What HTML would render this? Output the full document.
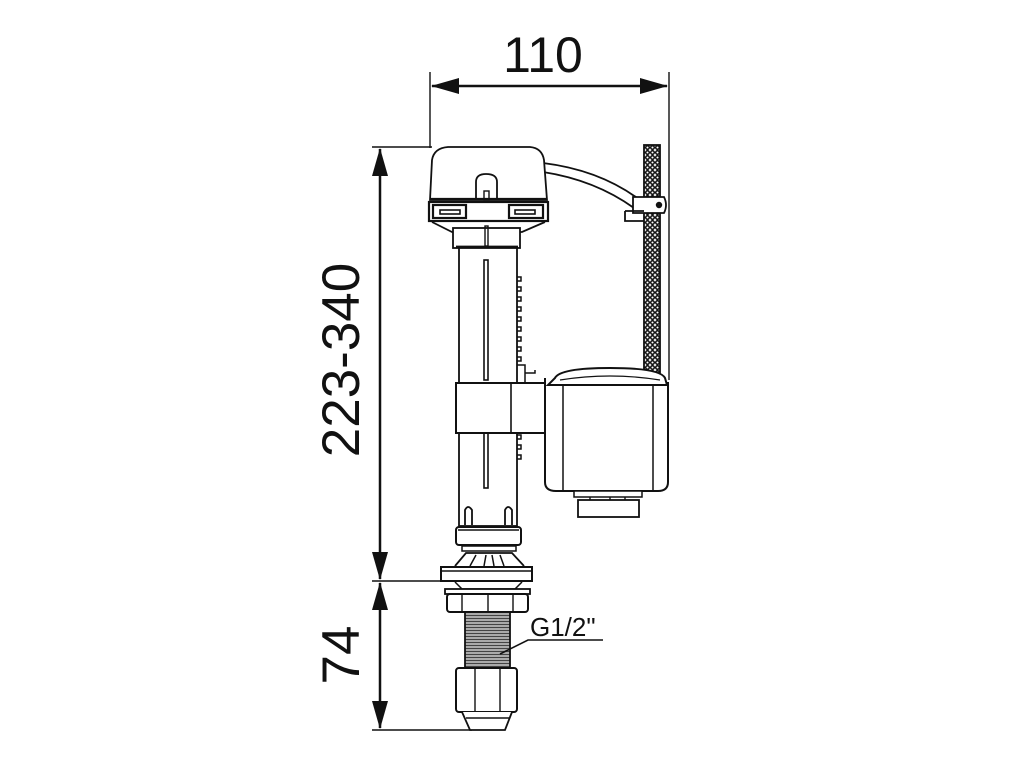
<!DOCTYPE html>
<html><head><meta charset="utf-8"><style>
html,body{margin:0;padding:0;background:#fff;}
svg{display:block;}
text{font-family:"Liberation Sans",Arial,sans-serif;fill:#111;}
</style></head><body>
<svg width="1024" height="768" viewBox="0 0 1024 768" xmlns="http://www.w3.org/2000/svg">
<defs>
<pattern id="chain" width="5" height="5" patternUnits="userSpaceOnUse">
<rect width="5" height="5" fill="#fff"/>
<circle cx="2.5" cy="2.5" r="1.8" fill="none" stroke="#111" stroke-width="1.5"/>
</pattern>
<pattern id="thr" width="4" height="3" patternUnits="userSpaceOnUse">
<rect width="4" height="3" fill="#aaa"/>
<line x1="0" y1="0.5" x2="4" y2="0.5" stroke="#444" stroke-width="1"/>
</pattern>
<marker id="ar" markerWidth="28" markerHeight="16" refX="27" refY="8" orient="auto-start-reverse" markerUnits="userSpaceOnUse">
<path d="M0,0 L28,8 L0,16 Z" fill="#111"/>
</marker>
</defs>
<g stroke="#111" stroke-width="1.4" fill="none">
<line x1="430" y1="72" x2="430" y2="148"/>
<line x1="669" y1="72" x2="669" y2="380"/>
<line x1="432" y1="86" x2="667" y2="86" stroke-width="2.5" marker-start="url(#ar)" marker-end="url(#ar)"/>
<line x1="372" y1="147" x2="432" y2="147"/>
<line x1="372" y1="581" x2="442" y2="581"/>
<line x1="372" y1="730" x2="472" y2="730"/>
<line x1="380" y1="149" x2="380" y2="579" stroke-width="2.5" marker-start="url(#ar)" marker-end="url(#ar)"/>
<line x1="380" y1="583" x2="380" y2="728" stroke-width="2.5" marker-start="url(#ar)" marker-end="url(#ar)"/>

<rect x="644" y="145" width="16" height="235" fill="url(#chain)" stroke-width="1.8"/>
<path d="M543,163 Q600,170 640,200" stroke-width="1.8"/>
<path d="M543,172 Q595,180 634,208" stroke-width="1.8"/>
<path d="M633,197 L664,197 Q668,205 664,213 L633,213 Z" fill="#fff" stroke-width="1.8"/>
<circle cx="659" cy="205" r="2.5" fill="#111"/>
<path d="M625,211 L644,211 M625,211 L625,221 L644,221" stroke-width="1.8"/>

<path d="M430,200 L432,160 Q434,148 448,147 L530,147 Q542,148 544,160 L547,200 Z" fill="#fff" stroke-width="1.8"/>
<path d="M476,200 L476,182 Q476,174 486,174 Q497,174 497,182 L497,200" stroke-width="1.8"/>
<rect x="484" y="191" width="5" height="9"/>
<line x1="430" y1="199" x2="547" y2="199" stroke-width="2.2"/>
<rect x="429" y="202" width="119" height="19" fill="#fff" stroke-width="2.2"/>
<rect x="433" y="205" width="33" height="13" stroke-width="2.2"/>
<rect x="509" y="205" width="34" height="13" stroke-width="2.2"/>
<rect x="440" y="210" width="20" height="4" stroke-width="1.6"/>
<rect x="515" y="210" width="20" height="4" stroke-width="1.6"/>
<path d="M432,222 L452,232 L522,232 L545,222" stroke-width="1.8"/>
<rect x="453" y="228" width="67" height="20" fill="#fff" stroke-width="1.8"/>
<rect x="485" y="226" width="3" height="20"/>
<line x1="456" y1="247" x2="518" y2="247" stroke-width="2.8"/>

<rect x="459" y="248" width="58" height="278" fill="#fff" stroke-width="1.8"/>
<rect x="484" y="260" width="4" height="120" stroke-width="1.6"/>
<rect x="484" y="433" width="4" height="55" stroke-width="1.6"/>
<path d="M517,277 h4 v4 h-4 m0,6 h4 v4 h-4 m0,6 h4 v4 h-4 m0,6 h4 v4 h-4 m0,6 h4 v4 h-4 m0,6 h4 v4 h-4 m0,6 h4 v4 h-4 m0,6 h4 v4 h-4 m0,6 h4 v4 h-4" stroke-width="1.5"/>
<path d="M517,435 h4 v4 h-4 m0,6 h4 v4 h-4 m0,6 h4 v4 h-4" stroke-width="1.5"/>
<path d="M517,365 h8 v18 M525,373 h10 v-3" stroke-width="1.5"/>
<rect x="456" y="383" width="89" height="50" fill="#fff" stroke-width="2"/>
<line x1="511" y1="383" x2="511" y2="433" stroke-width="1.6"/>

<path d="M545,378 L545,482 Q545,491 556,491 L658,491 Q668,491 668,482 L668,382" fill="#fff" stroke-width="2"/>
<line x1="563" y1="385" x2="563" y2="491" stroke-width="1.5"/>
<line x1="653" y1="385" x2="653" y2="491" stroke-width="1.5"/>
<path d="M555,378 Q560,368 610,368 Q660,368 665,378 L667,385 L548,385 Z" fill="#fff" stroke-width="2"/>
<path d="M560,380 Q610,372 660,380" stroke-width="1.2"/>
<rect x="574" y="491" width="68" height="6" fill="#fff" stroke-width="1.5"/>
<rect x="578" y="500" width="61" height="17" fill="#fff" stroke-width="1.8"/>
<line x1="590" y1="497" x2="590" y2="500"/><line x1="610" y1="497" x2="610" y2="500"/><line x1="625" y1="497" x2="625" y2="500"/>

<path d="M465,525 L465,510 Q468,504 472,510 L472,525" fill="#fff" stroke-width="1.8"/>
<path d="M505,525 L505,510 Q508,504 512,510 L512,525" fill="#fff" stroke-width="1.8"/>
<rect x="456" y="527" width="65" height="18" rx="3" fill="#fff" stroke-width="2"/>
<line x1="458" y1="530" x2="519" y2="530"/>
<rect x="462" y="546" width="54" height="5" fill="#fff" stroke-width="1.5"/>
<path d="M455,566 L466,553 L512,553 L524,566" fill="#fff" stroke-width="1.8"/>
<path d="M470,566 L476,555 M484,566 L486,555 M494,566 L492,555 M504,566 L500,555" stroke-width="1.5"/>
<rect x="441" y="567" width="91" height="14" fill="#fff" stroke-width="2"/>
<line x1="441" y1="571" x2="532" y2="571"/>
<path d="M455,582 L462,589 L515,589 L522,582" stroke-width="1.5"/>
<rect x="445" y="589" width="85" height="5" fill="#fff" stroke-width="1.8"/>
<rect x="447" y="594" width="81" height="18" rx="3" fill="#fff" stroke-width="2"/>
<line x1="462" y1="594" x2="462" y2="612"/><line x1="488" y1="594" x2="488" y2="612"/><line x1="513" y1="594" x2="513" y2="612"/>
<rect x="465" y="612" width="45" height="56" fill="url(#thr)" stroke-width="1.8"/>
<rect x="456" y="668" width="61" height="44" rx="3" fill="#fff" stroke-width="2"/>
<line x1="475" y1="668" x2="475" y2="712"/><line x1="500" y1="668" x2="500" y2="712"/>
<path d="M462,712 L470,730 L505,730 L512,712" fill="#fff" stroke-width="1.8"/>
<line x1="466" y1="718" x2="509" y2="718"/>

<path d="M500,654 L528,640 L603,640" stroke-width="1.6"/>
</g>
<text x="543" y="72" font-size="50" text-anchor="middle">110</text>
<text transform="translate(359,360) rotate(-90)" font-size="53" text-anchor="middle">223-340</text>
<text transform="translate(359,655) rotate(-90)" font-size="53" text-anchor="middle">74</text>
<text x="530" y="636" font-size="26">G1/2"</text>
</svg>
</body></html>
